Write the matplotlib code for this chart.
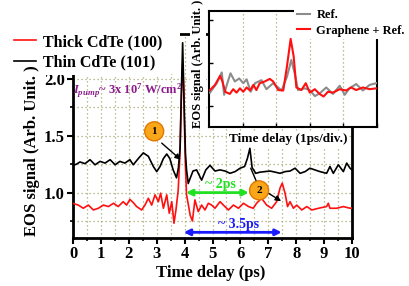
import matplotlib
matplotlib.use("Agg")
import matplotlib.pyplot as plt
from matplotlib.patches import Rectangle
from matplotlib.ticker import MultipleLocator, NullFormatter

# ---------------- data ----------------
thin_t = [0.00,0.12,0.25,0.43,0.61,0.79,0.97,1.15,1.33,1.51,1.68,1.86,2.04,2.16,2.34,2.52,2.70,2.88,3.00,3.12,
          3.24,3.36,3.47,3.59,3.71,3.78,3.84,3.88,3.93,3.98,4.03,4.07,4.13,4.19,4.30,4.43,4.61,4.76,4.91,5.09,
          5.27,5.45,5.63,5.81,5.99,6.15,6.25,6.34,6.42,6.55,6.70,6.88,7.06,7.25,7.42,7.60,7.78,7.96,8.14,8.32,
          8.49,8.67,8.85,9.09,9.21,9.33,9.51,9.69,9.81,9.93,10.00]
thin_v = [1.24,1.25,1.27,1.255,1.29,1.245,1.275,1.26,1.29,1.245,1.275,1.26,1.29,1.245,1.30,1.35,1.32,1.23,1.185,1.23,
          1.30,1.34,1.30,1.20,1.13,1.22,1.40,1.85,2.32,1.80,1.35,1.20,1.08,1.12,1.19,1.20,1.11,1.20,1.24,1.19,
          1.20,1.19,1.17,1.185,1.215,1.23,1.30,1.39,1.22,1.17,1.18,1.185,1.19,1.18,1.17,1.185,1.19,1.215,1.17,1.185,
          1.215,1.20,1.185,1.17,1.23,1.17,1.245,1.185,1.26,1.215,1.20]

thick_t = [0.00,0.19,0.37,0.55,0.73,0.91,1.09,1.27,1.45,1.62,1.80,1.92,2.04,2.16,2.28,2.46,2.58,2.70,2.82,2.94,
           3.06,3.14,3.24,3.36,3.45,3.54,3.62,3.69,3.77,3.83,3.88,3.93,3.97,4.02,4.07,4.13,4.20,4.28,4.37,4.49,
           4.61,4.73,4.85,4.97,5.09,5.27,5.39,5.57,5.75,5.93,6.11,6.29,6.46,6.58,6.76,6.94,7.12,7.30,7.42,7.50,
           7.60,7.69,7.78,7.90,8.02,8.20,8.38,8.56,8.80,9.09,9.15,9.21,9.45,9.69,9.93,10.00]
thick_v = [0.905,0.89,0.862,0.89,0.847,0.862,0.89,0.877,0.906,0.877,0.92,0.89,0.94,0.912,0.877,0.847,0.89,0.95,0.89,0.98,
           0.92,0.995,0.862,0.98,0.818,0.92,0.73,0.847,1.02,1.32,1.80,2.14,1.90,1.30,0.98,0.90,0.80,0.75,0.936,0.832,
           0.89,0.847,0.906,0.89,0.862,0.92,0.89,0.847,0.89,0.862,0.906,0.877,0.862,0.906,0.95,0.89,0.862,0.92,1.04,1.083,
           0.995,0.877,0.92,0.862,0.89,0.847,0.877,0.847,0.862,0.877,0.906,0.862,0.862,0.877,0.862,0.865]

ins_red_t = [0.03,0.18,0.33,0.40,0.48,0.62,0.72,0.82,0.92,1.02,1.12,1.22,1.32,1.41,1.51,1.66,1.81,1.91,2.06,2.21,
             2.32,2.43,2.52,2.60,2.75,2.88,3.00,3.15,3.29,3.41,3.54,3.69,3.89,4.08,4.23,4.38,4.58,4.78,4.98]
ins_red_v = [0.37,0.49,0.70,0.57,0.33,0.28,0.39,0.31,0.41,0.33,0.43,0.36,0.49,0.37,0.53,0.57,0.63,0.57,0.37,0.36,
             0.92,1.56,1.15,0.43,0.37,0.53,0.31,0.39,0.28,0.22,0.33,0.31,0.39,0.36,0.43,0.37,0.43,0.39,0.41]

ins_ref_t = [0.03,0.23,0.38,0.45,0.53,0.64,0.77,0.90,1.02,1.12,1.24,1.37,1.56,1.71,1.91,2.16,2.32,2.45,2.55,2.65,
             2.85,3.00,3.15,3.29,3.49,3.69,3.89,4.04,4.18,4.38,4.58,4.78,4.98]
ins_ref_v = [0.31,0.53,0.78,0.26,0.49,0.76,0.57,0.64,0.53,0.62,0.33,0.53,0.60,0.39,0.53,0.36,0.68,1.07,0.76,0.37,
             0.41,0.37,0.23,0.29,0.43,0.28,0.47,0.26,0.41,0.51,0.36,0.49,0.53]

x_ticks = list(range(0, 11))
y_ticks = [1.0, 1.5, 2.0]
legend_labels = ["Thick CdTe (100)", "Thin CdTe (101)"]
inset_labels = ["Ref.", "Graphene + Ref."]

# ---------------- style ----------------
plt.rcParams['font.family'] = ['Liberation Serif', 'DejaVu Serif']
plt.rcParams['font.weight'] = 'bold'
plt.rcParams['mathtext.fontset'] = 'custom'
plt.rcParams['mathtext.rm'] = 'Liberation Serif:bold'
plt.rcParams['mathtext.it'] = 'Liberation Serif:italic:bold'
plt.rcParams['mathtext.bf'] = 'Liberation Serif:bold'

W, H = 409, 286
fig = plt.figure(figsize=(W/100, H/100), dpi=100)

def fx(px):
    return px / W
def fy(py):
    return 1 - py / H

ax = fig.add_axes([fx(73), fy(238), fx(352) - fx(73), fy(33.7) - fy(238)])
ax.set_xlim(0, 10)
ax.set_ylim(0.6, 2.4)
grid_c = '#a6a673'
for xv in [i * 0.5 for i in range(1, 20)]:
    ax.axvline(xv, color=grid_c, ls=(0, (1, 2.2)), lw=0.9, zorder=0)
for yv in [0.75, 1.0, 1.25, 1.5, 1.75, 2.0]:
    ax.axhline(yv, color=grid_c, ls=(0, (1, 2.2)), lw=0.9, zorder=0)

l1, = ax.plot(thick_t, thick_v, color='#ff1010', lw=1.2, zorder=3)
l2, = ax.plot(thin_t, thin_v, color='black', lw=1.2, zorder=3)

ax.set_xticks(x_ticks)
ax.set_yticks(y_ticks)
ax.set_yticklabels([f"{v:.1f}" for v in y_ticks])
ax.xaxis.set_minor_locator(MultipleLocator(0.5))
ax.yaxis.set_minor_locator(MultipleLocator(0.25))
ax.tick_params(axis='both', which='major', direction='out', length=4, width=1.5, labelsize=12, pad=2)
ax.tick_params(axis='both', which='minor', direction='out', length=2.5, width=1.2)
for lab in ax.get_xticklabels() + ax.get_yticklabels():
    lab.set_fontweight('bold')
for s in ax.spines.values():
    s.set_linewidth(2)

fig.text(fx(32), fy(151), "EOS signal (Arb. Unit. )", rotation=90, ha='center', va='center',
         fontsize=12, fontweight='bold')
fig.text(fx(211), fy(273), "Time delay (ps)", ha='center', va='center', fontsize=12, fontweight='bold')

# white area behind the main legend (hides spine / grid there, like the original)
ax.add_patch(Rectangle((fx(40), fy(74)), fx(180) - fx(40), fy(20) - fy(74), transform=fig.transFigure,
                       facecolor='white', edgecolor='none', clip_on=False, zorder=4))
leg = ax.legend([l1, l2], legend_labels, loc='upper left', bbox_to_anchor=(fx(10), fy(30)),
                bbox_transform=fig.transFigure, frameon=True, fancybox=False, edgecolor='none',
                facecolor='white', framealpha=1, prop={'size': 11.5, 'weight': 'bold'},
                handlelength=1.4, handletextpad=0.4, labelspacing=0.3, borderpad=0.25, borderaxespad=0)
leg.set_zorder(10)

fig.text(fx(73), fy(91), r"$I_{pump}$~ 3x 10$^7$ W/cm$^2$", ha='left', va='center',
         fontsize=9, color='#8b1a8b', fontweight='bold')

circ = dict(boxstyle='circle,pad=0.45', fc='#f9a61a', ec='#e07800', lw=1)
ax.text(2.91, 1.54, "1", ha='center', va='center', fontsize=8, fontweight='bold', bbox=circ, zorder=6)
ax.text(6.67, 1.02, "2", ha='center', va='center', fontsize=8, fontweight='bold', bbox=circ, zorder=6)
ax.annotate('', xy=(3.86, 1.29), xytext=(3.18, 1.436),
            arrowprops=dict(arrowstyle='-|>', color='black', lw=1, mutation_scale=8, shrinkA=0, shrinkB=0), zorder=5)
ax.annotate('', xy=(6.37, 1.215), xytext=(6.58, 1.095),
            arrowprops=dict(arrowstyle='-', color='black', lw=1, shrinkA=0, shrinkB=0), zorder=5)
ax.annotate('', xy=(7.46, 0.925), xytext=(7.0, 0.995),
            arrowprops=dict(arrowstyle='-|>', color='black', lw=1, mutation_scale=8, shrinkA=0, shrinkB=0), zorder=5)

ax.annotate('', xy=(6.30, 1.0), xytext=(4.05, 1.0),
            arrowprops=dict(arrowstyle='<|-|>', color='#22e022', lw=2, mutation_scale=9, shrinkA=0, shrinkB=0), zorder=5)
ax.text(5.3, 1.07, "~ 2ps", ha='center', va='center', fontsize=10, color='#22e022', fontweight='bold')
ax.annotate('', xy=(7.48, 0.65), xytext=(3.97, 0.65),
            arrowprops=dict(arrowstyle='<|-|>', color='#1a1aff', lw=2, mutation_scale=9, shrinkA=0, shrinkB=0), zorder=5)
ax.text(5.92, 0.72, "~ 3.5ps", ha='center', va='center', fontsize=10, color='#1a1aff', fontweight='bold')

# ---------------- inset ----------------
ai = fig.add_axes([fx(209), fy(127), fx(377) - fx(209), fy(11) - fy(127)])
ai.set_facecolor('white')
ai.set_xlim(0, 5)
ai.set_ylim(-0.49, 2.21)
for xv in [1, 2, 3, 4]:
    ai.axvline(xv, color=grid_c, ls=(0, (1, 2.2)), lw=0.9, zorder=0)
g1, = ai.plot(ins_ref_t, ins_ref_v, color='#8c8c8c', lw=1.5, zorder=3)
g2, = ai.plot(ins_red_t, ins_red_v, color='#ff1010', lw=1.5, zorder=4)
ai.set_xticks([1, 2, 3, 4, 5])
ai.set_yticks([0, 1, 2])
ai.xaxis.set_major_formatter(NullFormatter())
ai.yaxis.set_major_formatter(NullFormatter())
ai.tick_params(axis='both', direction='in', length=3, width=1)
for s in ai.spines.values():
    s.set_linewidth(1.5)
lg2 = ai.legend([g1, g2], inset_labels, loc='upper left', bbox_to_anchor=(fx(294), fy(7)),
                bbox_transform=fig.transFigure, frameon=True, fancybox=False, edgecolor='none',
                facecolor='white', framealpha=1, prop={'size': 9, 'weight': 'bold'},
                handlelength=1.1, handletextpad=0.5, labelspacing=0.25, borderpad=0.2, borderaxespad=0)
lg2.set_zorder(10)

fig.text(fx(198), fy(64), "EOS signal (Arb. Unit. )", rotation=90, ha='center', va='center',
         fontsize=9, fontweight='bold', bbox=dict(fc='white', ec='none', pad=1.5))
fig.text(fx(288), fy(139), "Time delay (1ps/div.)", ha='center', va='center',
         fontsize=9.5, fontweight='bold', bbox=dict(fc='white', ec='none', pad=1.5))

fig.savefig("out.png", dpi=100)
